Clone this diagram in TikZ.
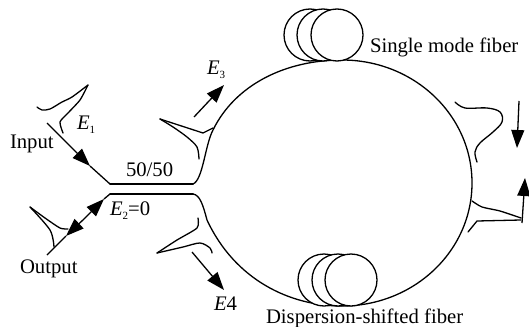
\documentclass[tikz,border=0pt]{standalone}
\usepackage{fontspec}
\setmainfont{Liberation Serif}
\usetikzlibrary{arrows.meta}
\newcommand{\subtxt}[1]{\raisebox{-4pt}{\fontsize{11}{12}\selectfont #1}}
\tikzset{
  x=1pt,y=-1pt,
  lbl/.style={anchor=base west,inner sep=0pt,outer sep=0pt,font=\fontsize{20.7}{24}\selectfont},
  fiber/.style={line width=1.3pt,line cap=round,line join=round},
  coupler/.style={line width=1.7pt,line cap=round},
  pulse/.style={line width=1.3pt,line cap=round,line join=round},
  arrowline/.style={line width=1.3pt,-{Triangle[length=18pt,width=13pt]}},
  plainline/.style={line width=1.3pt},
  roller/.style={circle,draw,fill=white,line width=1.3pt,minimum size=52pt,inner sep=0pt,outer sep=0pt}
}
\begin{document}
\begin{tikzpicture}
\useasboundingbox (0,0) rectangle (529,326);
% coupler end points
\coordinate (cuL) at (110,184);
\coordinate (cuR) at (193,184);
\coordinate (clL) at (110,194);
\coordinate (clR) at (193,194);
\coordinate (rTop) at (342,60);
\coordinate (rBot) at (342,306);
\coordinate (rRight) at (472,183);
% ring
\draw[fiber] (cuR) .. controls (203,180) and (205,145) .. (213,130)
  .. controls (235,85) and (285,60) .. (rTop)
  .. controls (414,60) and (472,115) .. (rRight)
  .. controls (472,251) and (414,306) .. (rBot)
  .. controls (290,306) and (235,280) .. (207,220)
  .. controls (203,205) and (200,195) .. (clR);
\draw[coupler] (cuL) -- (cuR);
\draw[coupler] (clL) -- (clR);
% rollers
\node[roller] (r1) at (310,35) {};
\node[roller] (r2) at (323,35) {};
\node[roller] (r3) at (337,35) {};
\node[roller] (r4) at (324,280) {};
\node[roller] (r5) at (338,280) {};
\node[roller] (r6) at (351,280) {};
% arrow anchor points
\coordinate (inS) at (47,123);
\coordinate (inM) at (90,166);
\coordinate (outS) at (47,255);
\coordinate (outA) at (66,236);
\coordinate (outAb) at (84,219);
\coordinate (outB) at (104,199);
\coordinate (e3S) at (194,117);
\coordinate (e3T) at (224,85);
\coordinate (e4S) at (192,252);
\coordinate (e4T) at (224,290);
\coordinate (dnS) at (519,101);
\coordinate (dnT) at (517,148);
\coordinate (upS) at (522,223);
\coordinate (upT) at (525,178);
% arrows
\draw[arrowline] (inS) -- (inM);
\draw[plainline] (inM) -- (cuL);
\draw[plainline] (clL) -- (outB);
\draw[arrowline] (outAb) -- (outB);
\draw[arrowline] (outAb) -- (outA);
\draw[plainline] (outA) -- (outS);
\draw[arrowline] (e3S) -- (e3T);
\draw[arrowline] (e4S) -- (e4T);
\draw[arrowline] (dnS) -- (dnT);
\draw[arrowline] (upS) -- (upT);
% pulses
\draw[pulse] plot[smooth,tension=0.5] coordinates {(37,107) (42,110) (50,109) (62,102) (72,97) (88,85)};
\draw[pulse] plot[smooth,tension=0.4] coordinates {(88,85) (80,100) (68,113) (60,122) (63,133)};
\draw[pulse] (160,119) -- (203,133) -- (213,128);
\draw[pulse] plot[smooth,tension=0.5] coordinates {(160,119) (173,127) (187,137) (197,147) (199,159)};
\draw[pulse] plot[smooth,tension=0.4] coordinates {(30,207) (45,218) (60,228) (68,229)};
\draw[pulse] plot[smooth,tension=0.5] coordinates {(30,207) (50,230) (54,247)};
\draw[pulse] plot[smooth,tension=0.4] coordinates {(157,253) (177,240) (197,228) (198,218)};
\draw[pulse] plot[smooth,tension=0.5] coordinates {(157,253) (183,247) (200,243) (210,248) (212,253)};
\draw[pulse] plot[smooth,tension=0.6] coordinates {(455,102) (465,108) (487,108) (500,112) (502,122) (493,132) (480,143) (475,152) (477,162)};
\draw[pulse] plot[smooth,tension=0.4] coordinates {(472,201) (482,207) (500,211) (521,218)};
\draw[pulse] (521,220) -- (477,221) -- (468,232);
% labels
\node[lbl] (tSingle) at (370,53) {Single mode fiber};
\node[lbl] (tDisp) at (266,323) {Dispersion-shifted fiber};
\node[lbl] (tInput) at (10,148) {Input};
\node[lbl] (tOutput) at (20,273) {Output};
\node[lbl] (t5050) at (126,176) {50/50};
\node[lbl] (tE1) at (77,129) {\textit{E}\subtxt{1}};
\node[lbl] (tE2) at (110,215) {\textit{E}\subtxt{2}=0};
\node[lbl] (tE3) at (207,75) {\textit{E}\subtxt{3}};
\node[lbl] (tE4) at (214,310) {\textit{E}4};
\end{tikzpicture}
\end{document}
